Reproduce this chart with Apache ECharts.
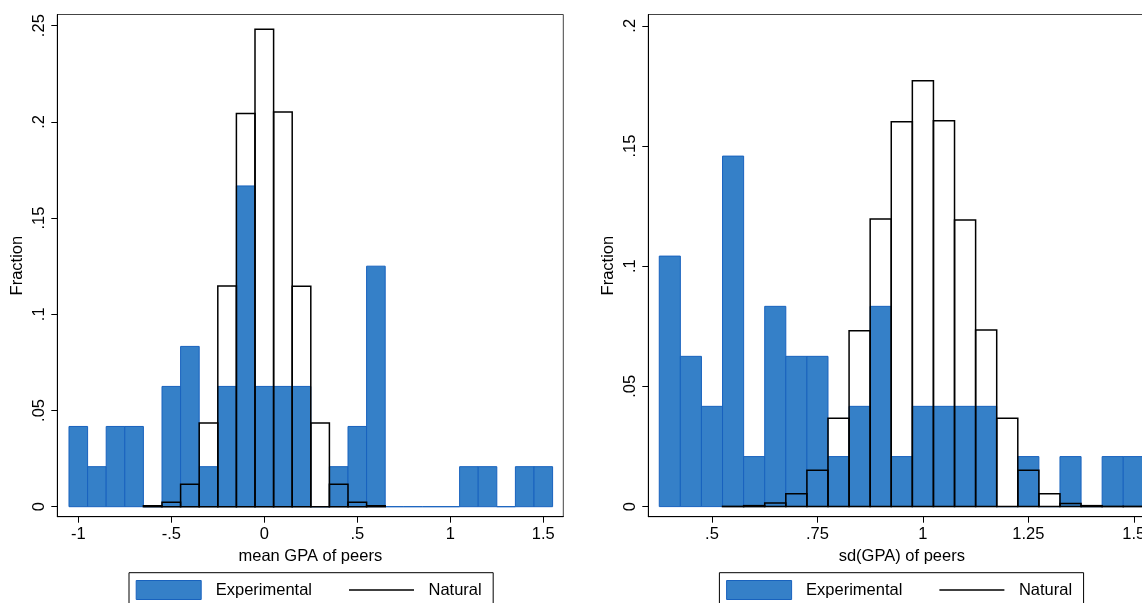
<!DOCTYPE html>
<html><head><meta charset="utf-8">
<script src="https://cdn.jsdelivr.net/npm/echarts@6/dist/echarts.min.js"></script>
<style>html,body{margin:0;padding:0;background:#fff}#c{width:1142px;height:603px}</style>
</head><body><div id="c"></div>
<script>
// ---------- data (fractions) ----------
const meanBins = [-1.0,-0.9,-0.8,-0.7,-0.6,-0.5,-0.4,-0.3,-0.2,-0.1,0.0,0.1,0.2,0.3,0.4,0.5,0.6,0.7,0.8,0.9,1.0,1.1,1.2,1.3,1.4,1.5];
const meanExperimental = [0.0417,0.0208,0.0417,0.0417,0,0.0625,0.0833,0.0208,0.0625,0.1667,0.0625,0.0625,0.0625,0,0.0208,0.0417,0.125,0,0,0,0,0.0208,0.0208,0,0.0208,0.0208];
const meanNaturalBins = [-0.6,-0.5,-0.4,-0.3,-0.2,-0.1,0.0,0.1,0.2,0.3,0.4,0.5,0.6];
const meanNatural = [0.0005,0.0023,0.0116,0.0435,0.1147,0.2043,0.2481,0.2051,0.1146,0.0435,0.0116,0.0023,0.0005];

const sdBins = [0.40,0.45,0.50,0.55,0.60,0.65,0.70,0.75,0.80,0.85,0.90,0.95,1.00,1.05,1.10,1.15,1.20,1.25,1.30,1.35,1.40,1.45,1.50];
const sdExperimental = [0.1042,0.0625,0.0417,0.1458,0.0208,0.0833,0.0625,0.0625,0.0208,0.0417,0.0833,0.0208,0.0417,0.0417,0.0417,0.0417,0,0.0208,0,0.0208,0,0.0208,0.0208];
const sdNaturalBins = [0.55,0.60,0.65,0.70,0.75,0.80,0.85,0.90,0.95,1.00,1.05,1.10,1.15,1.20,1.25,1.30,1.35,1.40,1.45,1.50];
const sdNatural = [0.0001,0.0004,0.0015,0.0053,0.0151,0.0368,0.0731,0.1196,0.1601,0.1771,0.1605,0.1192,0.0735,0.0368,0.0151,0.0053,0.0013,0.0004,0.0001,0.0001];

const meanBinWidth = 0.1;
const sdBinWidth = 0.05;

const meanXTicks = [-1,-0.5,0,0.5,1,1.5];
const meanXTickLabels = ['-1','-.5','0','.5','1','1.5'];
const meanYTicks = [0,0.05,0.1,0.15,0.2,0.25];
const meanYTickLabels = ['0','.05','.1','.15','.2','.25'];
const sdXTicks = [0.5,0.75,1,1.25,1.5];
const sdXTickLabels = ['.5','.75','1','1.25','1.5'];
const sdYTicks = [0,0.05,0.1,0.15,0.2];
const sdYTickLabels = ['0','.05','.1','.15','.2'];

// ---------- styling ----------
const FONT = "'Liberation Sans', Arial, Helvetica, sans-serif";
const FS = 16.5;
const BLUE = '#3580c8';
const BLUE_EDGE = '#1862be';

function pairs(xs, ys){ return xs.map((x,i)=>[x, ys[i]]); }
function labeler(ticks, labels){
  return function(v){
    let best = 0, d = Infinity;
    ticks.forEach((t,i)=>{ const e = Math.abs(t-v); if(e<d){d=e;best=i;} });
    return labels[best];
  };
}
function histRender(width, style){
  return function(params, api){
    const x = api.value(0), y = api.value(1);
    const p0 = api.coord([x - width/2, y]);
    const p1 = api.coord([x + width/2, 0]);
    return {
      type:'rect',
      shape:{x:p0[0], y:p0[1], width:p1[0]-p0[0], height:p1[1]-p0[1]},
      style: style
    };
  };
}
const expStyle = {fill: BLUE, stroke: BLUE_EDGE, lineWidth: 1};
const natStyle = {fill: 'none', stroke: '#000', lineWidth: 1.5};

function xAxis(gi, min, max, ticks, labels, name){
  return {
    type:'value', gridIndex:gi, min:min, max:max, name:name,
    nameLocation:'middle', nameGap:27,
    nameTextStyle:{fontFamily:FONT, fontSize:FS, color:'#000'},
    axisLine:{show:true, onZero:false, lineStyle:{color:'#000', width:1}},
    axisTick:{show:true, length:6, lineStyle:{color:'#000'}, customValues:ticks},
    axisLabel:{customValues:ticks, formatter:labeler(ticks,labels), margin:9,
      fontFamily:FONT, fontSize:FS, color:'#000'},
    splitLine:{show:false}
  };
}
function yAxis(gi, min, max, ticks, labels){
  return {
    type:'value', gridIndex:gi, min:min, max:max, name:'Fraction',
    nameLocation:'middle', nameGap:31, nameRotate:90,
    nameTextStyle:{fontFamily:FONT, fontSize:FS, color:'#000'},
    axisLine:{show:true, onZero:false, lineStyle:{color:'#000', width:1}},
    axisTick:{show:true, length:6, lineStyle:{color:'#000'}, customValues:ticks},
    axisLabel:{customValues:ticks, formatter:labeler(ticks,labels), margin:9, rotate:90,
      fontFamily:FONT, fontSize:FS, color:'#000'},
    splitLine:{show:false}
  };
}
function legend(left){
  return {
    left:left, top:572.7, orient:'horizontal',
    borderColor:'#000', borderWidth:1, borderRadius:0,
    padding:[7.3,11.5,8,6.7], itemGap:37, itemWidth:65, itemHeight:19,
    selectedMode:false,
    textStyle:{fontFamily:FONT, fontSize:FS, color:'#000', padding:[0,0,0,9.5]},
    data:[
      {name:'Experimental', icon:'rect', itemStyle:{color:BLUE, borderColor:BLUE_EDGE, borderWidth:1}},
      {name:'Natural', icon:'path://M0,0L65,0L65,1.5L0,1.5Z', itemStyle:{color:'#000', borderWidth:0}}
    ]
  };
}

const chart = echarts.init(document.getElementById('c'), null, {renderer:'canvas'});
chart.setOption({
  animation:false,
  backgroundColor:'#fff',
  grid:[
    {left:57.3, top:14.5, width:506, height:502.2, show:true, borderColor:'#444', borderWidth:1,
     backgroundColor:'#fff', containLabel:false, outerBoundsMode:'none'},
    {left:648.3, top:14.5, width:507, height:502.2, show:true, borderColor:'#444', borderWidth:1,
     backgroundColor:'#fff', containLabel:false, outerBoundsMode:'none'}
  ],
  xAxis:[
    xAxis(0, -1.1129, 1.6075, meanXTicks, meanXTickLabels, 'mean GPA of peers'),
    xAxis(1, 0.349, 1.551, sdXTicks, sdXTickLabels, 'sd(GPA) of peers')
  ],
  yAxis:[
    yAxis(0, -0.0052, 0.2558, meanYTicks, meanYTickLabels),
    yAxis(1, -0.0042, 0.2047, sdYTicks, sdYTickLabels)
  ],
  legend:[legend(129), legend(719.4)],
  series:[
    {type:'custom', name:'Experimental', xAxisIndex:0, yAxisIndex:0, itemStyle:{color:BLUE},
     renderItem:histRender(meanBinWidth, expStyle), data:pairs(meanBins, meanExperimental)},
    {type:'custom', name:'Natural', xAxisIndex:0, yAxisIndex:0, itemStyle:{color:'#000'},
     renderItem:histRender(meanBinWidth, natStyle), data:pairs(meanNaturalBins, meanNatural)},
    {type:'custom', name:'Experimental', xAxisIndex:1, yAxisIndex:1, itemStyle:{color:BLUE},
     renderItem:histRender(sdBinWidth, expStyle), data:pairs(sdBins, sdExperimental)},
    {type:'custom', name:'Natural', xAxisIndex:1, yAxisIndex:1, itemStyle:{color:'#000'},
     renderItem:histRender(sdBinWidth, natStyle), data:pairs(sdNaturalBins, sdNatural)}
  ]
});
</script>
</body></html>
